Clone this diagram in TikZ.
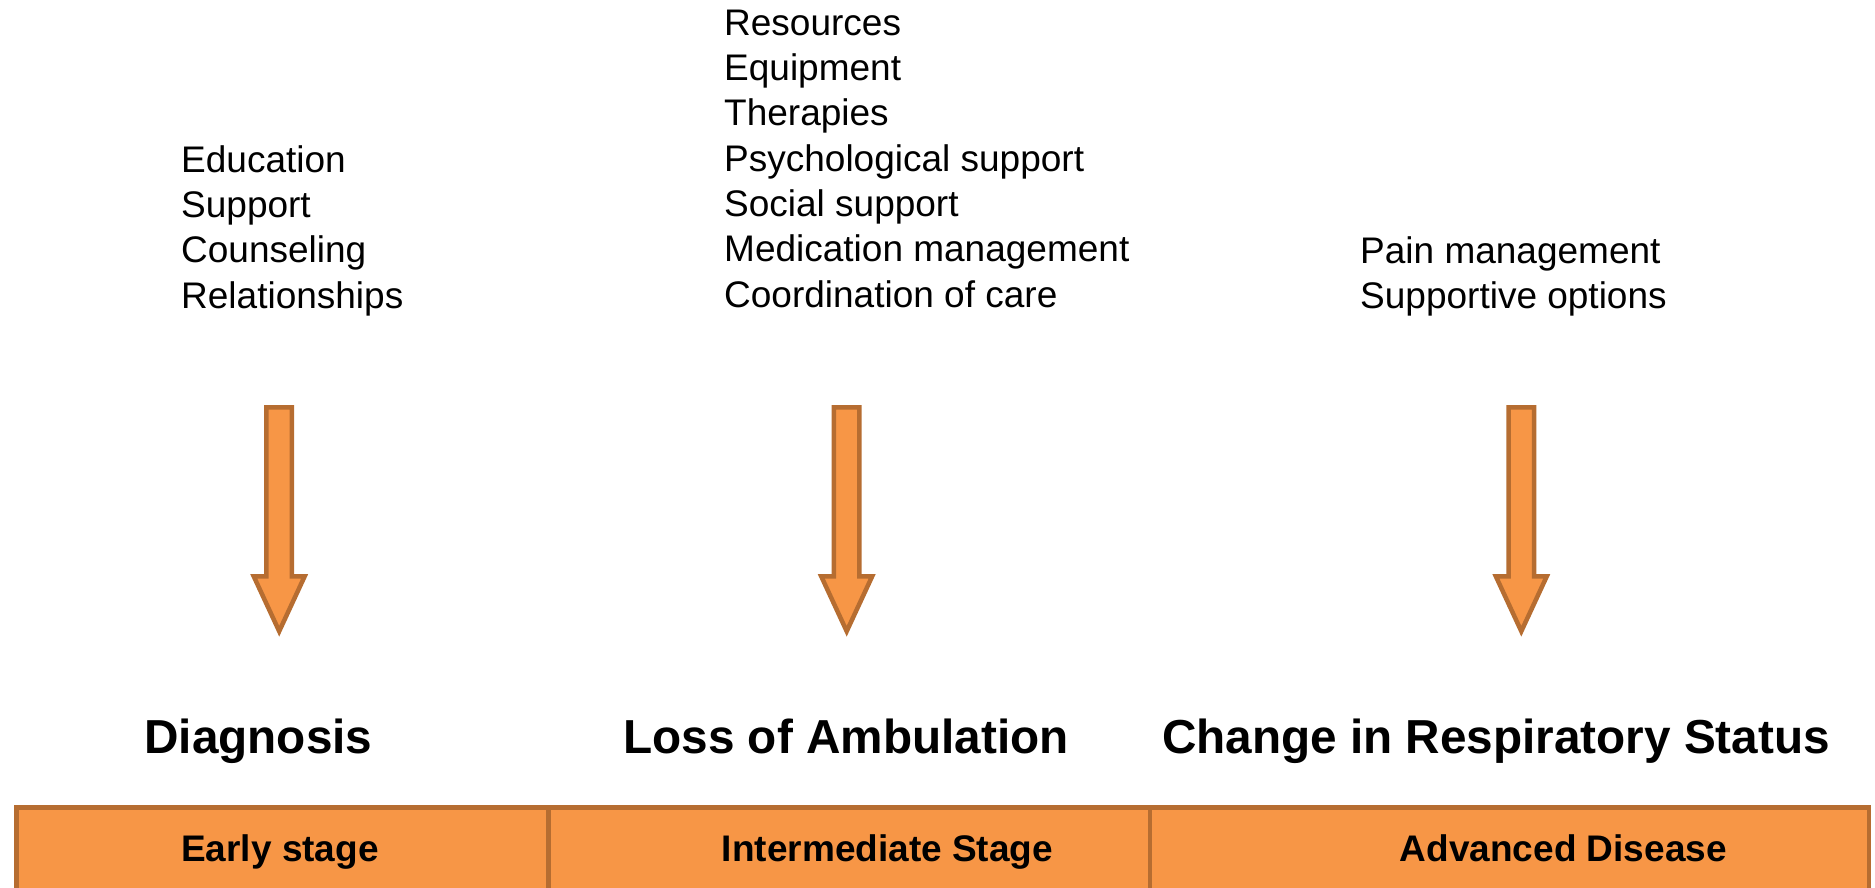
\documentclass[tikz,border=0pt]{standalone}
\usepackage{fontspec}
\setmainfont{Liberation Sans}
\definecolor{orangefill}{HTML}{F79646}
\definecolor{orangeline}{HTML}{B66D31}
\tikzset{
  blockarrow/.style={draw=orangeline, fill=orangefill, line width=4.5bp, line join=miter},
  downarrow/.pic={\draw[blockarrow] (-12.75,0) -- (12.75,0) -- (12.75,169) -- (25.5,169) -- (0,224) -- (-25.5,169) -- (-12.75,169) -- cycle;},
  listtext/.style={font=\fontsize{37bp}{45.3bp}\selectfont, align=left, anchor=north west, inner sep=0pt},
  heading/.style={font=\bfseries\fontsize{47.7bp}{57bp}\selectfont, anchor=base, inner sep=0pt},
  stagelabel/.style={font=\bfseries\fontsize{37bp}{44bp}\selectfont, anchor=base, inner sep=0pt},
  stagecell/.style={draw=orangeline, fill=orangefill, line width=4.5bp, anchor=north west, inner sep=0pt, minimum height=120bp}
}
\begin{document}
\begin{tikzpicture}[x=1bp,y=-1bp]
\useasboundingbox (0,0) rectangle (1875,888);
\clip (0,0) rectangle (1875,888);
% stage bar
\node[stagecell, minimum width=532bp] (cell1) at (14,805.25) {};
\node[stagecell, minimum width=601.5bp] (cell2) at (546,805.25) {};
\node[stagecell, minimum width=719bp] (cell3) at (1147.5,805.25) {};
\node[stagelabel] (early) at (280,861.7) {Early stage};
\node[stagelabel] (inter) at (887.5,861.7) {Intermediate Stage};
\node[stagelabel] (adv) at (1563.4,861.7) {Advanced Disease};
% headings
\node[heading] (diag) at (258.4,753.3) {Diagnosis};
\node[heading] (loss) at (846,753.3) {Loss of Ambulation};
\node[heading] (resp) at (1496,753.3) {Change in Respiratory Status};
% lists
\node[listtext] (list1) at (181,145.1) {Education\\Support\\Counseling\\Relationships};
\node[listtext] (list2) at (724,9.7) {Resources\\Equipment\\Therapies\\Psychological support\\Social support\\Medication management\\Coordination of care};
\node[listtext] (list3) at (1360,236.2) {Pain management\\Supportive options};
% arrows
\pic (arrow1) at (279.2,407.25) {downarrow};
\pic (arrow2) at (846.7,407.25) {downarrow};
\pic (arrow3) at (1521.3,407.25) {downarrow};
\end{tikzpicture}
\end{document}
